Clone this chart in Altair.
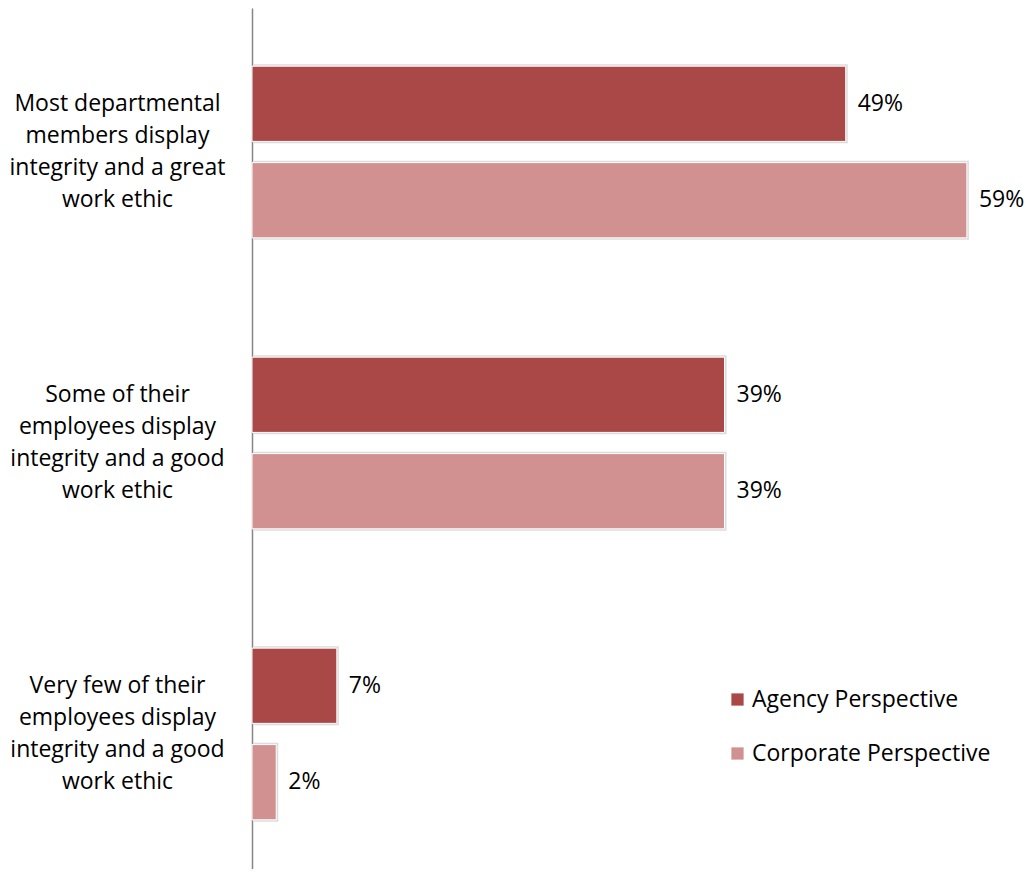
import altair as alt
import pandas as pd

categories = [
    "Most departmental|members display|integrity and a great|work ethic",
    "Some of their|employees display|integrity and a good|work ethic",
    "Very few of their|employees display|integrity and a good|work ethic",
]
series = ["Agency Perspective", "Corporate Perspective"]
agency = [49, 39, 7]
corporate = [59, 39, 2]
colors = ["#A94846", "#D29191"]

rows = []
for c, a, p in zip(categories, agency, corporate):
    rows.append({"cat": c, "series": series[0], "value": a, "label": f"{a}%"})
    rows.append({"cat": c, "series": series[1], "value": p, "label": f"{p}%"})
df = pd.DataFrame(rows)

FONT = "Open Sans"
FS = 23

y = alt.Y(
    "cat:N",
    sort=categories,
    scale=alt.Scale(paddingInner=0.41, paddingOuter=0.2, range=[0, 870]),
    axis=alt.Axis(
        title=None,
        labelExpr="split(datum.value, '|')",
        labelAlign="center",
        labelBaseline="middle",
        labelPadding=135,
        labelOffset=-48,
        labelFontSize=FS,
        labelFont=FONT,
        labelColor="#000000",
        labelLineHeight=32,
        labelLimit=0,
        ticks=False,
        tickSize=0,
        domain=True,
        domainColor="#868686",
        domainWidth=1.5,
        grid=False,
    ),
)
x = alt.X("value:Q", scale=alt.Scale(domain=[0, 60], nice=False, zero=True), axis=None)
yoff = alt.YOffset("series:N", sort=series, scale=alt.Scale(paddingInner=0.22, paddingOuter=0))

shadow = alt.Chart(df).mark_bar(
    color="#8a8a8a", opacity=0.3, xOffset=2, height=79
).encode(y=y, x=x, yOffset=yoff)

bars = alt.Chart(df).mark_bar(stroke="white", strokeWidth=1).encode(
    y=y,
    x=x,
    yOffset=yoff,
    color=alt.Color(
        "series:N",
        sort=series,
        scale=alt.Scale(domain=series, range=colors),
        legend=alt.Legend(
            title=None,
            orient="none",
            legendX=474,
            legendY=680,
            symbolType="square",
            symbolSize=150,
            symbolStrokeWidth=0,
            labelFontSize=FS,
            labelFont=FONT,
            labelColor="#000000",
            labelLimit=0,
            rowPadding=30,
            labelOffset=3,
        ),
    ),
)

text = alt.Chart(df).mark_text(
    align="left", baseline="middle", dx=12, fontSize=FS, font=FONT, color="#000000"
).encode(y=y, x=x, yOffset=yoff, text="label:N")

chart = (
    alt.layer(shadow, bars, text)
    .properties(
        width=727,
        height=861,
        autosize=alt.AutoSizeParams(type="none"),
        padding={"left": 244, "top": 0, "right": 45, "bottom": 0},
        background="white",
    )
    .configure_view(strokeWidth=0, stroke="transparent")
)

chart.save("out.html", embed_options={"renderer": "svg", "actions": False})
